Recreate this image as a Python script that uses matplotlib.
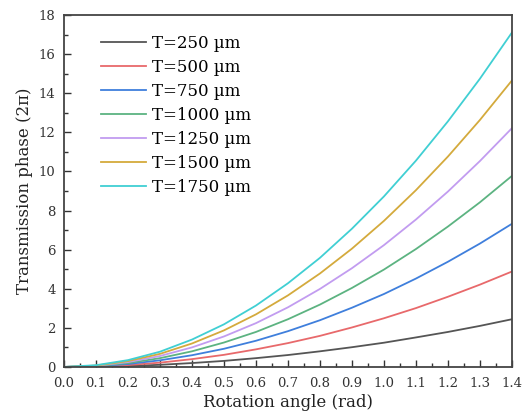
import numpy as np
import matplotlib.pyplot as plt
from matplotlib.ticker import MultipleLocator

# rotation angle (rad)
angle = [0.0, 0.1, 0.2, 0.3, 0.4, 0.5, 0.6, 0.7, 0.8, 0.9, 1.0, 1.1, 1.2, 1.3, 1.4]

# transmission phase (2pi)
t250 = [0, 0.01, 0.05, 0.11, 0.20, 0.31, 0.45, 0.61, 0.80, 1.01, 1.24, 1.51, 1.79, 2.10, 2.44]
t500 = [0, 0.02, 0.10, 0.22, 0.40, 0.62, 0.90, 1.22, 1.59, 2.02, 2.49, 3.01, 3.59, 4.21, 4.88]
t750 = [0, 0.04, 0.15, 0.34, 0.60, 0.93, 1.34, 1.83, 2.39, 3.03, 3.73, 4.52, 5.38, 6.31, 7.32]
t1000 = [0, 0.05, 0.20, 0.45, 0.80, 1.25, 1.79, 2.44, 3.19, 4.04, 4.98, 6.03, 7.18, 8.42, 9.77]
t1250 = [0, 0.06, 0.25, 0.56, 1.00, 1.56, 2.24, 3.05, 3.99, 5.05, 6.23, 7.54, 8.97, 10.53, 12.21]
t1500 = [0, 0.07, 0.30, 0.67, 1.20, 1.87, 2.69, 3.66, 4.78, 6.05, 7.47, 9.04, 10.76, 12.63, 14.65]
t1750 = [0, 0.09, 0.35, 0.78, 1.40, 2.18, 3.14, 4.28, 5.58, 7.07, 8.72, 10.55, 12.56, 14.74, 17.10]

labels = ['T=250 µm', 'T=500 µm', 'T=750 µm', 'T=1000 µm',
          'T=1250 µm', 'T=1500 µm', 'T=1750 µm']
colors = ['#555555', '#e8696b', '#3f7fdc', '#5cb381', '#c29cf0', '#d4aa3c', '#40cfd3']
series = [t250, t500, t750, t1000, t1250, t1500, t1750]

plt.rcParams['font.family'] = ['DejaVu Serif']
plt.rcParams['mathtext.fontset'] = 'dejavuserif'

fig = plt.figure(figsize=(5.31, 4.17), dpi=100)
ax = fig.add_axes([0.1205, 0.12, 0.8435, 0.844])

for y, lab, c in zip(series, labels, colors):
    ax.plot(angle, y, color=c, lw=1.3, label=lab)

ax.set_xlim(0, 1.4)
ax.set_ylim(0, 18)
ax.xaxis.set_major_locator(MultipleLocator(0.1))
ax.xaxis.set_minor_locator(MultipleLocator(0.05))
ax.yaxis.set_major_locator(MultipleLocator(2))
ax.yaxis.set_minor_locator(MultipleLocator(1))
ax.tick_params(which='both', direction='in', colors='#333333', labelsize=9.5)
ax.tick_params(which='major', length=5, width=1)
ax.tick_params(which='minor', length=3, width=1)
ax.tick_params(axis='x', which='major', pad=7)
ax.tick_params(axis='y', which='major', pad=6)
for s in ax.spines.values():
    s.set_color('#444444')
    s.set_linewidth(1.3)

ax.set_xlabel('Rotation angle (rad)', fontsize=12, color='#222222', labelpad=3)
ax.set_ylabel('Transmission phase (2π)', fontsize=12, color='#222222')

ax.legend(loc='upper left', bbox_to_anchor=(0.05, 0.985), frameon=False,
          fontsize=12, handlelength=2.7, labelspacing=0.42, handletextpad=0.35)

fig.savefig('out.png', dpi=100)
